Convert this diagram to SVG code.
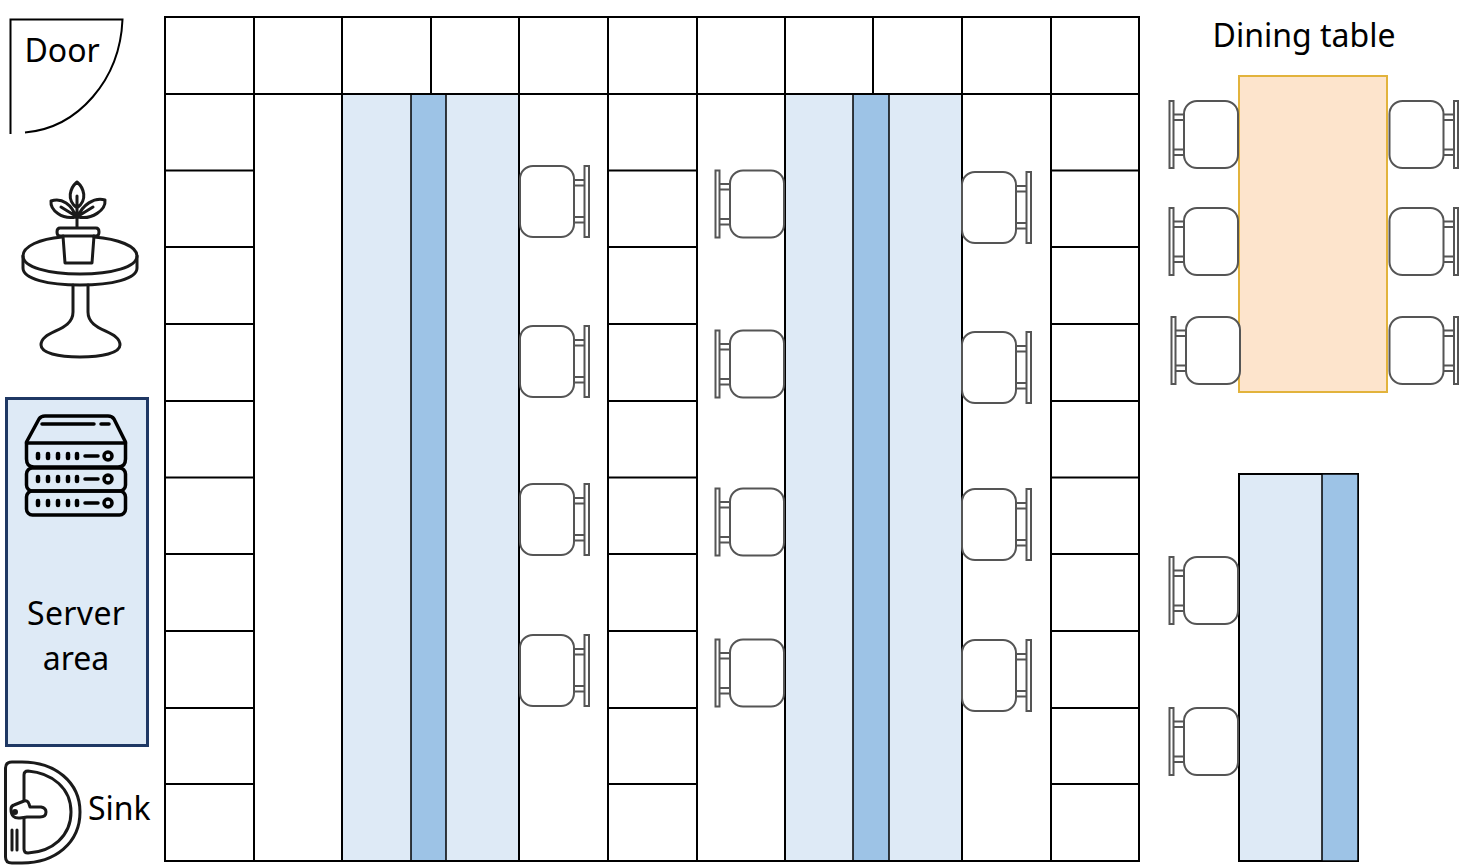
<svg xmlns="http://www.w3.org/2000/svg" width="1459" height="868" viewBox="0 0 1459 868">
<style>
.g{fill:none;stroke:#000;stroke-width:2}
.light{fill:#deeaf6;stroke:none}
.dark{fill:#9dc3e6;stroke:#000;stroke-width:1.5}
.ic{fill:none;stroke:#1a1a1a;stroke-width:3;stroke-linecap:round;stroke-linejoin:round}
.ch{fill:#fff;stroke:#555;stroke-width:2}
.chl{fill:none;stroke:#555;stroke-width:2}
text{font-family:"Noto Sans","Open Sans","Liberation Sans",sans-serif;font-size:32px;fill:#000}
</style>
<defs>
<g id="chair">
<rect class="ch" x="1" y="1" width="54" height="71" rx="13"/>
<rect class="chl" x="65.500" y="1" width="4.500" height="71"/>
<path class="chl" d="M55 15H65.500M55 20.500H65.500M55 52H65.500M55 57.500H65.500"/>
</g>
<g id="chairL">
<rect class="chl" x="0.500" y="0.500" width="4" height="67"/>
<rect class="ch" x="15" y="0.500" width="54" height="67" rx="13"/>
<path class="chl" d="M4.500 14H15M4.500 19.500H15M4.500 49H15M4.500 54.500H15"/>
</g>
<g id="chairR">
<rect class="ch" x="0.500" y="0.500" width="54" height="67" rx="13"/>
<rect class="chl" x="65" y="0.500" width="4" height="67"/>
<path class="chl" d="M54.500 14H65M54.500 19.500H65M54.500 49H65M54.500 54.500H65"/>
</g>
</defs>

<g id="door">
<path d="M10.500 134V19.500H122.500C120 80 78 128 25 132.500" fill="none" stroke="#000" stroke-width="2"/>
<text x="24.500" y="62">Door</text>
</g>

<g id="plant-table" class="ic">
<path d="M77 227V196M77 182C70 188 66 200 77 208C88 200 84 188 77 182ZM76 217C72 205 62 197 51 201C50 210 62 220 76 217ZM61 207L74 215M78 217C82 205 94 197 105 200C106 210 92 220 78 217ZM93 207L80 215"/>
<path d="M60 228H96Q99 228 99 232Q99 236 96 236H60Q57 236 57 232Q57 228 60 228Z"/>
<path d="M63 236L65 263H92L94 236"/>
<path d="M62 237C40 239 23 246 23 256C23 267 48 274 80 274C112 274 137 267 137 256C137 246 118 239 94 237"/>
<path d="M23 256V268C23 279 48 285 80 285C112 285 137 279 137 268V256"/>
<path d="M73 285V312C73 332 41 330 41 345C41 353 58 357 80 357C102 357 120 353 120 345C120 330 88 332 88 312V285"/>
</g>

<g id="server-area">
<rect x="6.500" y="398.500" width="141" height="347" fill="#deeaf6" stroke="#1f3864" stroke-width="3"/>
<g fill="none" stroke="#000" stroke-width="3.500" stroke-linecap="round" stroke-linejoin="round">
<path d="M26.500 442L39 419Q41 416 45 416H108Q112 416 114 419L125.500 442V459Q125.500 467 118 467H34Q26.500 467 26.500 459Z"/>
<path d="M26.500 443H125.500M42 424H94M101 424H109"/>
<rect x="26.500" y="468" width="99" height="23" rx="6"/>
<rect x="26.500" y="491" width="99" height="24" rx="6"/>
<path d="M85 456H98M85 479H98M85 503H98"/>
<g stroke-width="4.500"><path d="M38 454v4M48 454v4M58 454v4M68 454v4M77 454v4"/>
<path d="M38 477v4M48 477v4M58 477v4M68 477v4M77 477v4"/>
<path d="M38 501v4M48 501v4M58 501v4M68 501v4M77 501v4"/></g>
<circle cx="108" cy="456" r="4"/><circle cx="108" cy="479" r="4"/><circle cx="108" cy="503" r="4"/>
</g>
<text x="76" y="625" text-anchor="middle" textLength="98">Server</text>
<text x="76" y="670" text-anchor="middle">area</text>
</g>

<g id="sink">
<g class="ic" stroke-width="2.500">
<path d="M5.500 768Q5.500 762 12 762H22C55 762 80 782 80 812C80 843 55 863 22 863H12Q5.500 863 5.500 857Z"/>
<path d="M24 775Q24 771 28 771C52 773 71 788 71 812C71 836 52 852 28 853Q24 853 24 849Z"/>
<path fill="#fff" d="M11 809Q11 806 14 805L24 801Q28 800 29 804L30 807H41Q46 808 46 812Q46 817 40 817H27L20 818Q11 819 11 809Z"/>
<path d="M12 830V850M17 830V850"/>
<circle cx="15" cy="812" r="1.500"/>
</g>
<text x="88" y="820">Sink</text>
</g>

<g id="benches">
<rect class="light" x="342" y="94" width="177" height="767"/>
<rect class="dark" x="411" y="94" width="35" height="767"/>
<rect class="light" x="785" y="94" width="177" height="767"/>
<rect class="dark" x="853" y="94" width="36" height="767"/>
</g>

<g id="grid" class="g">
<rect x="165" y="17" width="974" height="844"/>
<path d="M165 94H1139"/>
<path d="M254 17V861M342 17V861M431 17V94M519 17V861M608 17V861M697 17V861M785 17V861M873 17V94M962 17V861M1051 17V861"/>
<path d="M165 170.500H254M165 247H254M165 324H254M165 401H254M165 477.500H254M165 554H254M165 631H254M165 708H254M165 784H254"/>
<path d="M608 170.500H697M608 247H697M608 324H697M608 401H697M608 477.500H697M608 554H697M608 631H697M608 708H697M608 784H697"/>
<path d="M1051 170.500H1139M1051 247H1139M1051 324H1139M1051 401H1139M1051 477.500H1139M1051 554H1139M1051 631H1139M1051 708H1139M1051 784H1139"/>
</g>

<g id="chairs">
<use href="#chair" x="519" y="165"/><use href="#chair" x="519" y="325"/><use href="#chair" x="519" y="483"/><use href="#chair" x="519" y="634"/>
<use href="#chair" x="961" y="171"/><use href="#chair" x="961" y="331"/><use href="#chair" x="961" y="488"/><use href="#chair" x="961" y="639"/>
<use href="#chairL" x="715" y="170"/><use href="#chairL" x="715" y="330"/><use href="#chairL" x="715" y="488"/><use href="#chairL" x="715" y="639"/>
</g>

<g id="dining-table">
<rect x="1239" y="76" width="148" height="316" fill="#fde4cc" stroke="#e2b33c" stroke-width="2"/>
<text x="1304" y="46.500" text-anchor="middle">Dining table</text>
<use href="#chairL" x="1169" y="100.500"/><use href="#chairL" x="1169" y="207.500"/><use href="#chairL" x="1171" y="316.500"/>
<use href="#chairR" x="1389" y="100.500"/><use href="#chairR" x="1389" y="207.500"/><use href="#chairR" x="1389" y="316.500"/>
</g>

<g id="side-bench">
<rect x="1239" y="474" width="119" height="387" fill="#deeaf6" stroke="#000" stroke-width="2"/>
<rect x="1322" y="474" width="36" height="387" fill="#9dc3e6" stroke="#000" stroke-width="1.500"/>
<use href="#chairL" x="1169" y="556.500"/><use href="#chairL" x="1169" y="707.500"/>
</g>
</svg>
